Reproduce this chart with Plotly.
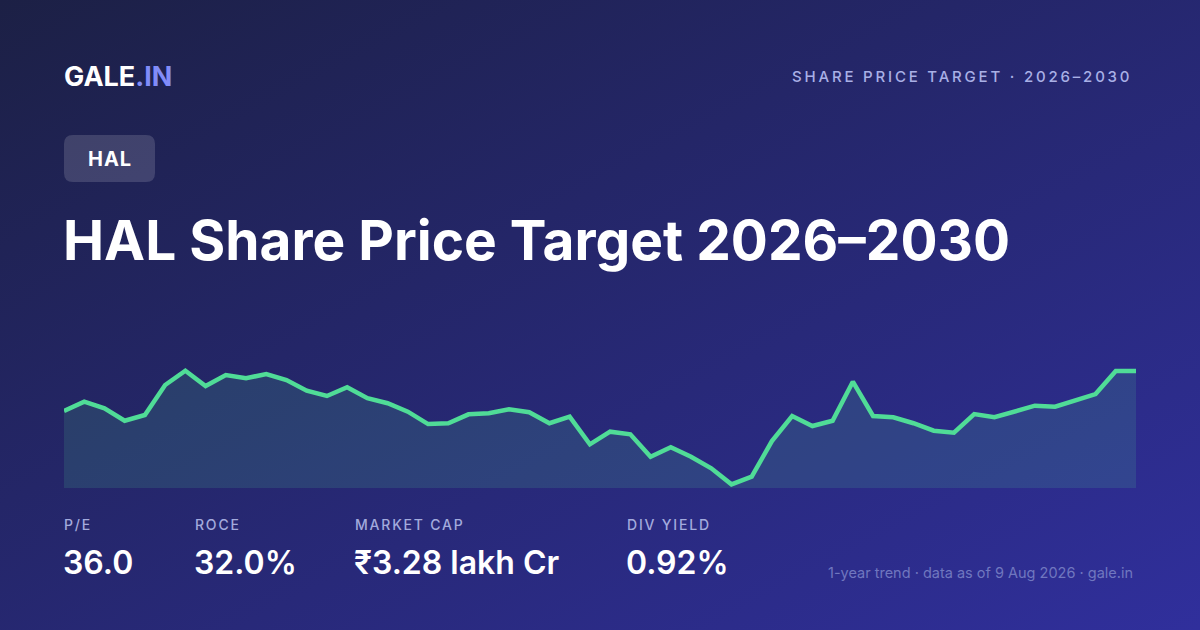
import base64
import plotly.graph_objects as go

W, H = 1200, 630

# 1-year trend, weekly closes (approx)
prices = [4496, 4591, 4524, 4397, 4455, 4761, 4907, 4751, 4863, 4830,
          4873, 4812, 4703, 4649, 4738, 4626, 4575, 4489, 4363, 4371,
          4462, 4473, 4513, 4483, 4371, 4438, 4156, 4285, 4258, 4030,
          4126, 4030, 3912, 3748, 3826, 4190, 4445, 4343, 4397, 4795,
          4445, 4432, 4371, 4295, 4275, 4465, 4432, 4489, 4550, 4540,
          4608, 4669, 4904, 4904]
weeks = list(range(len(prices)))

stat_labels = ["P/E", "ROCE", "MARKET CAP", "DIV YIELD"]
stat_values = ["36.0", "32.0%", "₹3.28 lakh Cr", "0.92%"]
stat_x = [64, 195, 355, 627]

FONT = "Inter"


def px(x):
    return x / W


def py(y):
    return 1 - y / H


# background gradient as an inline svg
svg = ('<svg xmlns="http://www.w3.org/2000/svg" width="1200" height="630">'
       '<defs><linearGradient id="g" x1="0" y1="0" x2="1" y2="1">'
       '<stop offset="0" stop-color="#1c2045"/>'
       '<stop offset="1" stop-color="#302f9c"/>'
       '</linearGradient></defs>'
       '<rect width="1200" height="630" fill="url(#g)"/></svg>')
bg_src = "data:image/svg+xml;base64," + base64.b64encode(svg.encode()).decode()

fig = go.Figure()
fig.add_trace(go.Scatter(
    x=weeks, y=prices, mode="lines",
    line=dict(color="#50dc97", width=4.5),
    fill="tozeroy", fillcolor="rgba(82,220,152,0.14)",
    hoverinfo="skip", showlegend=False,
))


def rounded_rect(x0, y0, x1, y1, r):
    p = "M {},{} ".format(px(x0 + r), py(y0))
    p += "L {},{} ".format(px(x1 - r), py(y0))
    p += "Q {},{} {},{} ".format(px(x1), py(y0), px(x1), py(y0 + r))
    p += "L {},{} ".format(px(x1), py(y1 - r))
    p += "Q {},{} {},{} ".format(px(x1), py(y1), px(x1 - r), py(y1))
    p += "L {},{} ".format(px(x0 + r), py(y1))
    p += "Q {},{} {},{} ".format(px(x0), py(y1), px(x0), py(y1 - r))
    p += "L {},{} ".format(px(x0), py(y0 + r))
    p += "Q {},{} {},{} Z".format(px(x0), py(y0), px(x0 + r), py(y0))
    return p


shapes = [dict(type="path", xref="paper", yref="paper",
               path=rounded_rect(64, 135, 155, 182, 9),
               fillcolor="rgba(255,255,255,0.15)", line=dict(width=0), layer="below")]

ann = []


def txt(x, y, s, size, color, weight=400, anchor="left", spacing=None):
    if spacing:
        s = '<span style="letter-spacing:{}px">{}</span>'.format(spacing, s)
    ann.append(dict(x=px(x), y=py(y), xref="paper", yref="paper", text=s,
                    showarrow=False, xanchor=anchor, yanchor="middle",
                    font=dict(family=FONT, size=size, color=color, weight=weight)))


txt(62, 76, 'GALE<span style="color:#818cf8">.IN</span>', 27, "#ffffff", 700)
txt(1134, 76, "SHARE PRICE TARGET · 2026–2030", 15, "#a9b0e6", 500, "right", 2.8)
txt(109.5, 159, "HAL", 20, "#ffffff", 700, "center", 1)
txt(61, 240, "HAL Share Price Target 2026–2030", 55, "#ffffff", 700)

for lab, val, x in zip(stat_labels, stat_values, stat_x):
    txt(x - 2, 524, lab, 14, "#a3abdd", 500, "left", 1.8)
    txt(x - 3, 562, val, 32, "#ffffff", 600)

txt(1135, 573, "1-year trend · data as of 9 Aug 2026 · gale.in", 14.5, "#7077bf", 400, "right")

fig.update_layout(
    width=W, height=H, autosize=False,
    margin=dict(l=0, r=0, t=0, b=0),
    paper_bgcolor="#1c2045", plot_bgcolor="rgba(0,0,0,0)",
    images=[dict(source=bg_src, xref="paper", yref="paper", x=0, y=1,
                 sizex=1, sizey=1, sizing="stretch", layer="below")],
    xaxis=dict(domain=[px(64), px(1136)], range=[0, len(prices) - 1], visible=False),
    yaxis=dict(domain=[py(488), py(360)], range=[3711, 5016], visible=False),
    shapes=shapes, annotations=ann,
    font=dict(family=FONT),
)

# page body has an 8px default margin, drop it so the card fills the window
fig.write_html("out.html", config={"displayModeBar": False},
               post_script="document.body.style.margin='0';")
